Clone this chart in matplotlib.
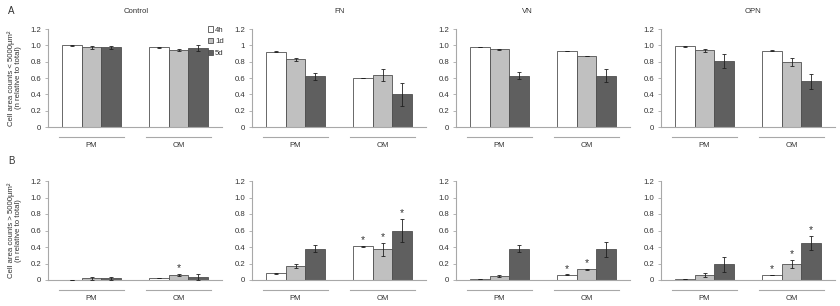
import matplotlib
matplotlib.use("Agg")
import matplotlib.pyplot as plt
import matplotlib.transforms as mtransforms
from matplotlib.patches import Patch

plt.rcParams['font.family'] = ['Liberation Sans', 'DejaVu Sans']

# data: order is PM 4h, 1d, 5d, OM 4h, 1d, 5d
panels = ['Control', 'FN', 'VN', 'OPN']
groups = ['PM', 'OM']
times = ['4h', '1d', '5d']

# A: cell area counts < 5000 um2
small_ctrl = [1.00, 0.975, 0.975, 0.975, 0.94, 0.965]
small_ctrl_err = [0.005, 0.015, 0.015, 0.005, 0.01, 0.04]
small_fn = [0.92, 0.83, 0.62, 0.60, 0.635, 0.40]
small_fn_err = [0.005, 0.02, 0.045, 0.005, 0.07, 0.14]
small_vn = [0.98, 0.95, 0.63, 0.93, 0.87, 0.63]
small_vn_err = [0.003, 0.01, 0.045, 0.0, 0.0, 0.085]
small_opn = [0.99, 0.94, 0.81, 0.935, 0.80, 0.56]
small_opn_err = [0.005, 0.02, 0.09, 0.005, 0.05, 0.09]

# B: cell area counts > 5000 um2
large_ctrl = [0.0, 0.02, 0.02, 0.025, 0.06, 0.035]
large_ctrl_err = [0.0, 0.015, 0.015, 0.0, 0.01, 0.035]
large_fn = [0.08, 0.17, 0.38, 0.41, 0.37, 0.60]
large_fn_err = [0.003, 0.025, 0.045, 0.005, 0.075, 0.145]
large_vn = [0.015, 0.05, 0.38, 0.065, 0.13, 0.37]
large_vn_err = [0.002, 0.01, 0.045, 0.003, 0.005, 0.09]
large_opn = [0.01, 0.06, 0.19, 0.065, 0.195, 0.445]
large_opn_err = [0.0, 0.025, 0.09, 0.0, 0.05, 0.085]

# significance stars (B only)
large_ctrl_sig = [0, 0, 0, 0, 1, 0]
large_fn_sig = [0, 0, 0, 1, 1, 1]
large_vn_sig = [0, 0, 0, 1, 1, 0]
large_opn_sig = [0, 0, 0, 1, 1, 1]

yticks = [0, 0.2, 0.4, 0.6, 0.8, 1.0, 1.2]
ytick_labels = ['0', '0.2', '0.4', '0.6', '0.8', '1.0', '1.2']
ytick_labels_fn_a = ['0', '0.2', '0.4', '0.6', '0.8', '1', '1.2']

rows = [
    [(small_ctrl, small_ctrl_err, None), (small_fn, small_fn_err, None),
     (small_vn, small_vn_err, None), (small_opn, small_opn_err, None)],
    [(large_ctrl, large_ctrl_err, large_ctrl_sig), (large_fn, large_fn_err, large_fn_sig),
     (large_vn, large_vn_err, large_vn_sig), (large_opn, large_opn_err, large_opn_sig)],
]

colors = ['white', '#c0c0c0', '#5f5f5f']
edge = '#505050'
axis_col = '#a8a8a8'
text_col = '#333333'
fs = 5.6

W, H = 840, 306
fig = plt.figure(figsize=(W / 100, H / 100), dpi=100)

lefts = [48, 252, 456, 661]
title_x = [0.506, 0.506, 0.41, 0.53]
ax_w = 174
row_box = [(29, 127), (181, 280)]  # top, bottom in pixels
bw = 0.226

for r, row in enumerate(rows):
    top, bot = row_box[r]
    for c, (vals, errs, sig) in enumerate(row):
        ax = fig.add_axes([lefts[c] / W, 1 - bot / H, ax_w / W, (bot - top) / H])
        for t in range(3):
            xs = [g + (t - 1) * bw for g in range(2)]
            hs = [vals[g * 3 + t] for g in range(2)]
            es = [errs[g * 3 + t] for g in range(2)]
            ax.bar(xs, hs, width=bw, color=colors[t], edgecolor=edge, linewidth=0.6,
                   label=times[t], zorder=2)
            ax.errorbar(xs, hs, yerr=es, fmt='none', ecolor='#202020', elinewidth=0.6,
                        capsize=1.5, capthick=0.6, zorder=3)
            if sig is not None:
                for g in range(2):
                    if sig[g * 3 + t]:
                        ax.text(xs[g], hs[g] + es[g] + 0.07, '*', ha='center', va='center',
                                fontsize=7.5, color=text_col)
        ax.set_xlim(-0.5, 1.5)
        ax.set_ylim(0, 1.2)
        for s in ['top', 'right']:
            ax.spines[s].set_visible(False)
        for s in ['left', 'bottom']:
            ax.spines[s].set_color(axis_col)
            ax.spines[s].set_linewidth(0.8)
        ax.set_yticks(yticks)
        ax.set_yticklabels(ytick_labels_fn_a if (r == 0 and c == 1) else ytick_labels)
        ax.tick_params(axis='y', length=2, width=0.6, color=axis_col, labelsize=fs,
                       labelcolor=text_col, pad=3)
        ax.set_xticks([0, 1])
        ax.set_xticklabels(groups)
        ax.tick_params(axis='x', length=0, labelsize=fs, labelcolor=text_col, pad=10.5)
        # group underline
        trans = mtransforms.blended_transform_factory(ax.transData, ax.transAxes)
        for g in range(2):
            ax.plot([g - 0.37, g + 0.37], [-0.10, -0.10], color=axis_col, lw=0.8,
                    transform=trans, clip_on=False)
        if r == 0:
            ax.text(title_x[c], 1 + 18 / 98, panels[c], transform=ax.transAxes,
                    fontsize=fs, color=text_col, ha='center', va='center')
        if c == 0:
            sign = '<' if r == 0 else '>'
            ax.set_ylabel('Cell area counts %s 5000µm²\n(n relative to total)' % sign,
                          fontsize=fs, color=text_col, linespacing=1.0)
            ax.yaxis.set_label_coords(-0.15, 0.5)
        if r == 0 and c == 0:
            handles = [Patch(facecolor=colors[t], edgecolor=edge, linewidth=0.6)
                       for t in range(3)]
            ax.legend(handles, times, loc='upper left', bbox_to_anchor=(0.9, 1.06),
                      frameon=False, fontsize=fs, handlelength=0.7, handleheight=0.7,
                      handletextpad=0.25, labelspacing=0.55, borderaxespad=0,
                      labelcolor=text_col)

fig.text(8 / W, 1 - 11 / H, 'A', fontsize=7, color=text_col, va='center')
fig.text(8 / W, 1 - 161 / H, 'B', fontsize=7, color=text_col, va='center')

fig.savefig('out.png', dpi=100)
